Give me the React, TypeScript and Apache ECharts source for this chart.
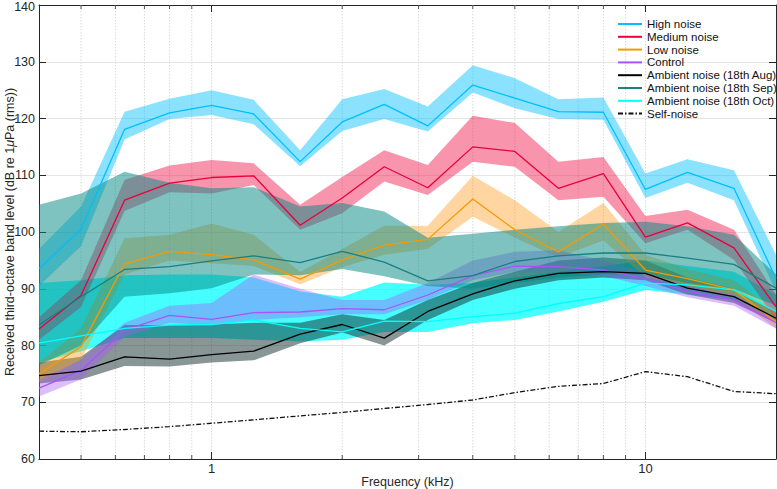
import React, { useEffect, useRef } from "react";
import * as echarts from "echarts";

// ---- data (kHz, dB) ----
const freqs = [0.4, 0.5, 0.63, 0.8, 1, 1.25, 1.6, 2, 2.5, 3.15, 4, 5, 6.3, 8, 10, 12.5, 16, 20];

const highMean = [93.5, 100.5, 118.1, 121.0, 122.3, 120.8, 112.4, 119.4, 122.5, 118.7, 125.9, 123.6, 121.2, 121.1, 107.5, 110.5, 107.7, 91.8];
const highUpper = [97.0, 104.5, 121.2, 123.5, 125.0, 123.3, 114.4, 123.4, 125.2, 122.1, 129.4, 127.1, 123.4, 123.7, 110.3, 112.8, 110.9, 96.0];
const highLower = [90.5, 97.5, 116.3, 119.9, 120.6, 119.0, 111.6, 117.8, 119.9, 117.7, 124.6, 121.8, 119.9, 119.8, 106.0, 108.7, 105.6, 89.5];

const mediumMean = [82.9, 88.8, 105.6, 108.6, 109.6, 109.9, 101.2, 106.0, 111.5, 107.8, 115.0, 114.2, 107.7, 110.3, 99.1, 101.6, 97.2, 86.8];
const mediumUpper = [85.0, 91.5, 109.2, 111.7, 112.7, 112.1, 104.8, 109.7, 114.4, 111.8, 120.5, 119.2, 112.4, 113.2, 102.8, 103.9, 100.4, 89.0];
const mediumLower = [81.0, 86.8, 103.7, 107.0, 106.8, 108.3, 100.4, 103.3, 108.9, 106.5, 112.4, 111.5, 105.6, 106.2, 98.0, 100.4, 95.1, 84.5];

const lowMean = [75.0, 79.8, 94.4, 96.6, 96.0, 95.1, 91.7, 95.1, 97.7, 98.7, 105.8, 100.4, 96.5, 101.4, 93.3, 91.8, 89.8, 84.2];
const lowUpper = [77.0, 83.0, 98.9, 99.5, 101.5, 99.5, 93.0, 97.0, 101.1, 101.1, 109.9, 105.6, 100.0, 105.1, 96.0, 93.5, 91.5, 86.0];
const lowLower = [73.5, 77.5, 92.5, 95.0, 94.5, 94.0, 90.8, 93.8, 96.0, 97.0, 102.7, 99.0, 95.5, 98.5, 92.0, 90.5, 88.5, 83.0];

const controlMean = [72.5, 75.6, 82.7, 85.3, 84.6, 85.8, 85.9, 86.5, 86.3, 88.9, 92.3, 94.0, 93.9, 93.3, 91.8, 89.6, 88.0, 84.0];
const controlUpper = [74.0, 77.5, 84.0, 87.0, 87.5, 92.5, 90.0, 88.0, 88.0, 91.0, 95.0, 96.5, 96.8, 95.0, 92.8, 90.5, 89.0, 85.0];
const controlLower = [71.0, 74.0, 81.5, 84.0, 83.5, 84.5, 85.0, 85.5, 85.5, 88.0, 91.5, 93.0, 92.8, 92.3, 90.5, 88.5, 87.0, 83.0];

const augMean = [74.7, 75.5, 78.0, 77.6, 78.4, 79.0, 82.0, 83.7, 81.3, 86.0, 89.1, 91.4, 92.7, 93.0, 92.7, 90.1, 88.6, 84.8];
const augUpper = [77.0, 78.0, 83.6, 83.6, 83.7, 84.0, 84.0, 85.5, 84.5, 88.0, 91.0, 93.0, 95.0, 95.5, 95.0, 92.0, 90.0, 86.0];
const augLower = [73.3, 74.0, 76.4, 76.3, 77.0, 77.4, 80.4, 82.3, 80.0, 84.5, 88.0, 90.0, 91.5, 92.0, 91.5, 89.0, 87.5, 84.0];

const sepMean = [83.6, 88.6, 93.4, 93.9, 94.9, 95.8, 94.6, 96.6, 94.7, 91.4, 92.3, 94.8, 95.8, 96.3, 96.3, 95.4, 94.3, 90.1];
const sepUpper = [104.8, 106.8, 110.6, 108.7, 107.7, 107.9, 104.5, 105.1, 103.6, 99.0, 99.7, 100.4, 101.0, 101.6, 101.8, 101.0, 99.5, 92.5];
const sepLower = [76.5, 80.0, 88.6, 89.2, 90.1, 92.5, 92.4, 93.5, 92.2, 90.5, 90.0, 91.0, 92.0, 92.5, 92.5, 91.0, 90.0, 87.0];

const octMean = [80.4, 81.7, 83.0, 83.6, 83.7, 84.5, 83.0, 82.4, 84.3, 84.2, 85.1, 85.7, 87.4, 88.6, 91.0, 90.7, 89.8, 86.0];
const octUpper = [91.0, 91.5, 92.4, 92.5, 92.5, 92.0, 89.5, 88.6, 91.1, 90.7, 91.0, 92.0, 93.0, 94.0, 95.0, 94.0, 93.0, 89.0];
const octLower = [77.0, 79.0, 81.3, 81.3, 81.3, 81.0, 80.7, 81.0, 82.4, 82.4, 83.9, 84.5, 86.0, 87.7, 89.8, 89.0, 88.0, 84.5];

const selfNoise = [64.9, 64.8, 65.2, 65.7, 66.3, 66.9, 67.6, 68.2, 68.9, 69.6, 70.4, 71.7, 72.8, 73.3, 75.4, 74.5, 71.9, 71.5];

const seriesNames = [
  "High noise",
  "Medium noise",
  "Low noise",
  "Control",
  "Ambient noise (18th Aug)",
  "Ambient noise (18th Sep)",
  "Ambient noise (18th Oct)",
  "Self-noise",
];

const yTicks = [60, 70, 80, 90, 100, 110, 120, 130, 140];
const xTickLabels = [1, 10];
const minorFreqs = [0.5, 0.6, 0.7, 0.8, 0.9, 2, 3, 4, 5, 6, 7, 8, 9];

const FONT = "'Liberation Sans', Arial, Helvetica, sans-serif";
const AXIS = "#262626";

export default function App() {
  const ref = useRef<HTMLDivElement>(null);

  useEffect(() => {
    if (!ref.current) return;
    const chart = echarts.init(ref.current, undefined, { renderer: "svg" });

    const band = (name: string, lo: number[], hi: number[], fill: string) => ({
      type: "custom",
      name,
      z: 2,
      silent: true,
      clip: true,
      data: freqs.map((f, i) => [f, lo[i], hi[i]]),
      encode: { x: 0, y: [1, 2] },
      renderItem: (params: any, api: any) => {
        if (params.dataIndex !== 0) return null;
        const pts: number[][] = [];
        for (let i = 0; i < freqs.length; i++) pts.push(api.coord([freqs[i], hi[i]]));
        for (let i = freqs.length - 1; i >= 0; i--) pts.push(api.coord([freqs[i], lo[i]]));
        return { type: "polygon", shape: { points: pts }, style: { fill, stroke: null } };
      },
    });

    const line = (name: string, vals: number[], color: string, dash?: any) => ({
      type: "line",
      name,
      z: 4,
      symbol: "none",
      data: freqs.map((f, i) => [f, vals[i]]),
      lineStyle: { color, width: 1.3, type: dash || "solid" },
      itemStyle: { color },
    });

    const gridSeries = {
      type: "custom",
      name: "minorGrid",
      z: 1,
      silent: true,
      data: minorFreqs.map((f) => [f, 100]),
      encode: { x: 0, y: 1 },
      renderItem: (params: any, api: any) => {
        const f = minorFreqs[params.dataIndex];
        const top = api.coord([f, 140]);
        const bot = api.coord([f, 60]);
        return {
          type: "line",
          shape: { x1: top[0], y1: top[1], x2: bot[0], y2: bot[1] },
          style: { stroke: "#cfcfcf", lineWidth: 0.8, lineDash: [1.5, 1.5] },
        };
      },
    };

    const tickSeries = {
      type: "custom",
      name: "minorTicks",
      z: 6,
      silent: true,
      data: minorFreqs.map((f) => [f, 100]),
      encode: { x: 0, y: 1 },
      renderItem: (params: any, api: any) => {
        const f = minorFreqs[params.dataIndex];
        const top = api.coord([f, 140]);
        const bot = api.coord([f, 60]);
        return {
          type: "group",
          children: [
            { type: "line", shape: { x1: top[0], y1: top[1], x2: top[0], y2: top[1] + 4 }, style: { stroke: AXIS, lineWidth: 0.8 } },
            { type: "line", shape: { x1: bot[0], y1: bot[1], x2: bot[0], y2: bot[1] - 4 }, style: { stroke: AXIS, lineWidth: 0.8 } },
          ],
        };
      },
    };

    const isLabel = (v: number) => xTickLabels.some((t) => Math.abs(v - t) < 1e-6);
    const yMax = yTicks[yTicks.length - 1];

    chart.setOption({
      animation: false,
      textStyle: { fontFamily: FONT },
      grid: { left: 39, right: 1, top: 5, bottom: 30, containLabel: false, outerBoundsMode: "none" },
      legend: {
        orient: "vertical",
        left: 612,
        top: 13,
        itemWidth: 24,
        itemHeight: 10,
        itemGap: 0.8,
        data: seriesNames,
        itemStyle: { opacity: 0 },
        textStyle: { fontSize: 11.5, lineHeight: 10, color: "#111", fontFamily: FONT, padding: 0 },
      },
      xAxis: [
        {
          type: "log",
          logBase: 10,
          min: 0.4,
          max: 20,
          position: "bottom",
          name: "Frequency (kHz)",
          nameLocation: "middle",
          nameGap: 16,
          nameMoveOverlap: false,
          nameTextStyle: { fontSize: 12.5, color: AXIS, fontFamily: FONT },
          axisLine: { show: true, lineStyle: { color: AXIS, width: 1 } },
          axisTick: { show: true, inside: true, length: 7, lineStyle: { color: AXIS } },
          axisLabel: {
            show: true,
            margin: 4,
            fontSize: 13,
            lineHeight: 10,
            color: AXIS,
            fontFamily: FONT,
            showMinLabel: false,
            showMaxLabel: false,
            formatter: (v: number) => (isLabel(v) ? String(Math.round(v)) : ""),
          },
          splitLine: { show: true, lineStyle: { color: "#cfcfcf", width: 0.8, type: [1.5, 1.5] } },
        },
        {
          type: "log",
          logBase: 10,
          min: 0.4,
          max: 20,
          position: "top",
          axisLine: { show: true, lineStyle: { color: AXIS, width: 1 } },
          axisTick: { show: true, inside: true, length: 7, lineStyle: { color: AXIS } },
          axisLabel: { show: false },
          splitLine: { show: false },
        },
      ],
      yAxis: [
        {
          type: "value",
          min: yTicks[0],
          max: yMax,
          interval: 10,
          position: "left",
          name: "Received third-octave band level (dB re 1{mu|μ}Pa (rms))",
          nameLocation: "middle",
          nameGap: 23,
          nameMoveOverlap: false,
          nameRotate: 90,
          nameTextStyle: {
            fontSize: 12.5,
            color: AXIS,
            fontFamily: FONT,
            rich: { mu: { fontStyle: "italic", fontSize: 12.5, color: AXIS, fontFamily: FONT } },
          },
          axisLine: { show: true, lineStyle: { color: AXIS, width: 1 } },
          axisTick: { show: true, inside: true, length: 7, lineStyle: { color: AXIS } },
          axisLabel: {
            margin: 4,
            fontSize: 12.5,
            lineHeight: 9,
            color: AXIS,
            fontFamily: FONT,
            formatter: (v: number) => (v === yMax ? "{t|" + v + "}" : String(v)),
            rich: {
              t: { fontSize: 12.5, lineHeight: 9, color: AXIS, fontFamily: FONT, padding: [4, 0, 0, 0] },
            },
          },
          splitLine: { show: true, lineStyle: { color: "#e6e6e6", width: 1 } },
        },
        {
          type: "value",
          min: yTicks[0],
          max: yMax,
          interval: 10,
          position: "right",
          axisLine: { show: true, lineStyle: { color: AXIS, width: 1 } },
          axisTick: { show: true, inside: true, length: 7, lineStyle: { color: AXIS } },
          axisLabel: { show: false },
          splitLine: { show: false },
        },
      ],
      series: [
        gridSeries,
        band("b-oct", octLower, octUpper, "rgba(0,255,255,0.73)"),
        band("b-aug", augLower, augUpper, "rgba(20,45,45,0.5)"),
        band("b-high", highLower, highUpper, "rgba(0,191,255,0.46)"),
        band("b-medium", mediumLower, mediumUpper, "rgba(240,20,70,0.45)"),
        band("b-low", lowLower, lowUpper, "rgba(255,153,20,0.4)"),
        band("b-control", controlLower, controlUpper, "rgba(166,92,245,0.4)"),
        band("b-sep", sepLower, sepUpper, "rgba(0,135,130,0.5)"),
        line(seriesNames[0], highMean, "#00BFFF"),
        line(seriesNames[1], mediumMean, "#E8003C"),
        line(seriesNames[2], lowMean, "#F59A00"),
        line(seriesNames[3], controlMean, "#A855F7"),
        line(seriesNames[4], augMean, "#000000"),
        line(seriesNames[5], sepMean, "#1A7F7F"),
        line(seriesNames[6], octMean, "#00FFFF"),
        line(seriesNames[7], selfNoise, "#111111", [5, 2, 1.5, 2]),
        tickSeries,
      ],
    });

    return () => chart.dispose();
  }, []);

  return <div ref={ref} style={{ width: 777, height: 489, position: "absolute", left: 0, top: 0 }} />;
}
